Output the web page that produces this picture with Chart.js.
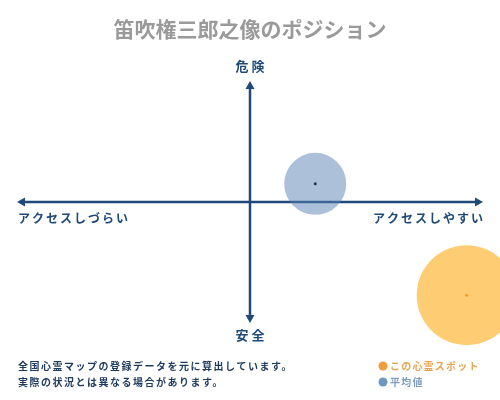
<!DOCTYPE html>
<html>
<head>
<meta charset="utf-8">
<script src="https://cdn.jsdelivr.net/npm/chart.js@4"></script>
<style>
  body { margin: 0; background: #fff; }
  #wrap { width: 500px; height: 400px; }
</style>
</head>
<body>
<div id="wrap"><canvas id="positionChart" width="500" height="400"></canvas></div>
<script>
// position on the map: x = access (easy > 0), y = danger (danger > 0)
var seriesNames = ["この心霊スポット", "平均値"];
var accessValues = [9.3, 2.8];
var dangerValues = [-7.7, 1.5];
var bubbleSizes = [50, 31];

var titleText = "笛吹権三郎之像のポジション";
var axisLabels = { top: "危 険", bottom: "安 全", left: "アクセスしづらい", right: "アクセスしやすい" };
var noteLines = ["全国心霊マップの登録データを元に算出しています。", "実際の状況とは異なる場合があります。"];

var navy = "#1f4a78";
var jp = '"Noto Sans CJK JP", sans-serif';

// axes with arrow heads, drawn through the scales' zero
var axesPlugin = {
  id: "crossAxes",
  beforeDatasetsDraw: function(chart) {
    var ctx = chart.ctx, xs = chart.scales.x, ys = chart.scales.y;
    var cx = xs.getPixelForValue(0), cy = ys.getPixelForValue(0);
    var l = xs.getPixelForValue(xs.min), r = xs.getPixelForValue(xs.max);
    var t = ys.getPixelForValue(ys.max), b = ys.getPixelForValue(ys.min);
    ctx.save();
    ctx.strokeStyle = navy;
    ctx.fillStyle = navy;
    ctx.lineWidth = 2.5;
    ctx.beginPath();
    ctx.moveTo(l + 4, cy); ctx.lineTo(r - 4, cy);
    ctx.moveTo(cx, t + 4); ctx.lineTo(cx, b - 4);
    ctx.stroke();
    function head(x, y, dx, dy) {
      ctx.beginPath();
      ctx.moveTo(x, y);
      ctx.lineTo(x - dx * 8 + dy * 4.5, y - dy * 8 + dx * 4.5);
      ctx.lineTo(x - dx * 8 - dy * 4.5, y - dy * 8 - dx * 4.5);
      ctx.closePath();
      ctx.fill();
    }
    head(r, cy, 1, 0); head(l, cy, -1, 0);
    head(cx, t, 0, -1); head(cx, b, 0, 1);

    ctx.font = "bold 13px " + jp;
    ctx.textBaseline = "middle";
    ctx.textAlign = "center";
    ctx.fillText(axisLabels.top, cx, t - 15);
    ctx.fillText(axisLabels.bottom, cx, b + 12);
    ctx.font = "bold 12px " + jp;
    ctx.letterSpacing = "2px";
    ctx.textAlign = "left";
    ctx.fillText(axisLabels.left, l + 1, cy + 16);
    ctx.textAlign = "right";
    ctx.fillText(axisLabels.right, r + 2, cy + 16);
    ctx.restore();
  },
  afterDatasetsDraw: function(chart) {
    var ctx = chart.ctx;
    var dotColors = ["#f0a020", "#1f3050"];
    ctx.save();
    chart.data.datasets.forEach(function(ds, i) {
      var el = chart.getDatasetMeta(i).data[0];
      ctx.fillStyle = dotColors[i];
      ctx.beginPath();
      ctx.arc(el.x, el.y, 1.5, 0, Math.PI * 2);
      ctx.fill();
    });

    // title
    ctx.fillStyle = "#9a9a9a";
    ctx.font = "bold 21px " + jp;
    ctx.textAlign = "center";
    ctx.textBaseline = "middle";
    ctx.fillText(titleText, 250, 29);

    // notes
    ctx.fillStyle = "#1e3a5c";
    ctx.font = "bold 10px " + jp;
    ctx.letterSpacing = "1.5px";
    ctx.textAlign = "left";
    ctx.fillText(noteLines[0], 18, 366);
    ctx.fillText(noteLines[1], 18, 382);

    // legend
    var legendColors = ["#ef9c3c", "#6f98c0"];
    var textColors = ["#e8a450", "#7f9ec0"];
    seriesNames.forEach(function(name, i) {
      var y = 366 + i * 16;
      ctx.fillStyle = legendColors[i];
      ctx.beginPath();
      ctx.arc(383, y, 4.5, 0, Math.PI * 2);
      ctx.fill();
      ctx.fillStyle = textColors[i];
      ctx.font = "bold 10px " + jp;
      ctx.letterSpacing = "1.2px";
      ctx.fillText(name, 390, y);
    });
    ctx.restore();
  }
};

var datasets = seriesNames.map(function(name, i) {
  return {
    label: name,
    data: [{ x: accessValues[i], y: dangerValues[i], r: bubbleSizes[i] }],
    backgroundColor: i === 0 ? "rgba(254,192,80,0.8)" : "rgba(90,130,180,0.5)",
    borderWidth: 0,
    clip: false
  };
});

new Chart(document.getElementById("positionChart"), {
  type: "bubble",
  data: { datasets: datasets },
  options: {
    responsive: false,
    animation: false,
    layout: { autoPadding: false, padding: { left: 17, right: 17, top: 81, bottom: 77 } },
    scales: {
      x: { type: "linear", min: -10, max: 10, display: false },
      y: { type: "linear", min: -10, max: 10, display: false }
    },
    plugins: {
      legend: { display: false },
      tooltip: { enabled: false }
    }
  },
  plugins: [axesPlugin]
});
</script>
</body>
</html>
